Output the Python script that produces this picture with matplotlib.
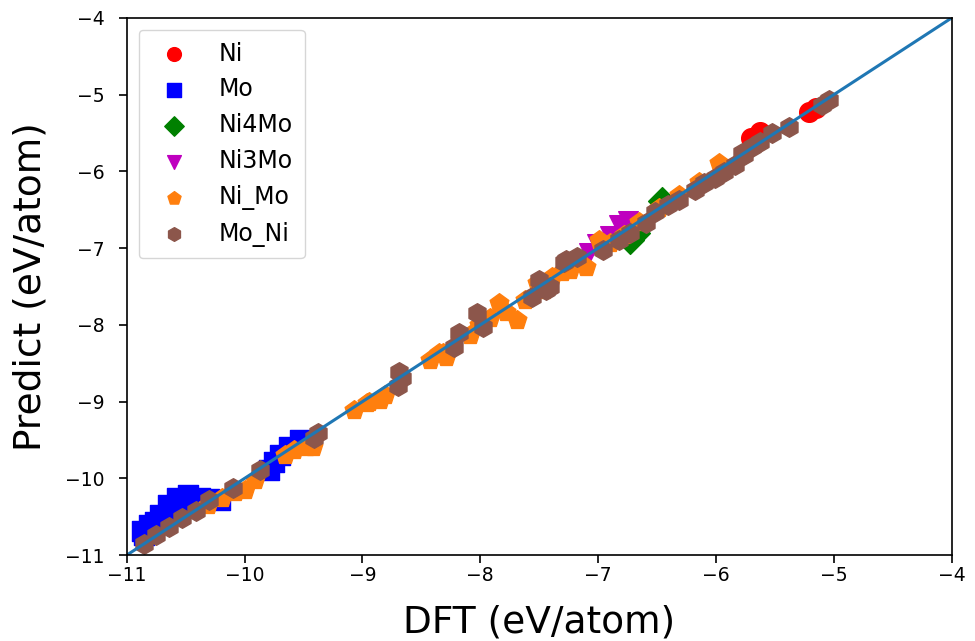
import numpy as np
import matplotlib
matplotlib.use('Agg')
import matplotlib.pyplot as plt

# DFT energy vs predicted energy (eV/atom) for each structure group
ni_dft = [-5.70, -5.63, -5.21, -5.15]
ni_pred = [-5.57, -5.49, -5.23, -5.17]

mo_dft = [-10.87, -10.85, -10.81, -10.76, -10.72, -10.65, -10.63, -10.57, -10.53,
          -10.48, -10.38, -10.30, -10.21, -9.79, -9.75, -9.70, -9.62, -9.53]
mo_pred = [-10.68, -10.74, -10.61, -10.57, -10.48, -10.35, -10.42, -10.25, -10.35,
           -10.22, -10.25, -10.27, -10.28, -9.89, -9.79, -9.70, -9.59, -9.50]

ni4mo_dft = [-6.73, -6.68, -6.46]
ni4mo_pred = [-6.89, -6.80, -6.38]

ni3mo_dft = [-7.08, -7.01, -6.90, -6.82, -6.75]
ni3mo_pred = [-7.06, -6.95, -6.84, -6.70, -6.64]

nimo_dft = [-10.31, -10.19, -10.08, -10.00, -9.91, -9.66, -9.58, -9.47, -9.42, -9.07,
            -8.96, -8.94, -8.85, -8.81, -8.43, -8.35, -8.32, -8.29, -8.09, -8.01,
            -7.92, -7.84, -7.78, -7.69, -7.62, -7.52, -7.46, -7.39, -7.31, -7.24,
            -7.16, -7.10, -6.99, -6.90, -6.78, -6.65, -6.48, -6.31, -6.14, -5.97]
nimo_pred = [-10.35, -10.26, -10.18, -10.15, -10.02, -9.70, -9.63, -9.59, -9.59, -9.11,
             -9.02, -9.01, -8.98, -8.92, -8.46, -8.36, -8.36, -8.42, -8.13, -8.00,
             -7.91, -7.72, -7.83, -7.94, -7.68, -7.46, -7.55, -7.38, -7.31, -7.29,
             -7.19, -7.25, -6.89, -6.93, -6.83, -6.66, -6.48, -6.31, -6.14, -5.89]

moni_dft = [-10.85, -10.75, -10.64, -10.53, -10.41, -10.30, -10.10, -9.87, -9.38, -9.41,
            -8.70, -8.69, -8.66, -8.22, -8.18, -8.03, -7.98, -7.56, -7.50, -7.44,
            -7.41, -7.29, -7.27, -7.18, -6.96, -6.82, -6.73, -6.59, -6.52, -6.41,
            -6.31, -6.18, -6.10, -6.01, -5.93, -5.84, -5.76, -5.78, -5.69, -5.63,
            -5.52, -5.38, -5.10, -5.04]
moni_pred = [-10.85, -10.74, -10.64, -10.51, -10.42, -10.28, -10.13, -9.89, -9.41, -9.48,
             -8.79, -8.62, -8.69, -8.29, -8.11, -7.85, -8.03, -7.64, -7.42, -7.55,
             -7.51, -7.18, -7.16, -7.12, -7.03, -6.89, -6.80, -6.67, -6.53, -6.44,
             -6.37, -6.24, -6.15, -6.09, -6.01, -5.92, -5.79, -5.76, -5.68, -5.62,
             -5.50, -5.42, -5.13, -5.07]

lims = [-11, -4]

fig = plt.figure(figsize=(9.75, 6.41), dpi=100)
ax = fig.add_axes([0.130, 0.134, 0.846, 0.838])

s = 200
ax.scatter(ni_dft, ni_pred, s=s, c='r', marker='o', label='Ni')
ax.scatter(mo_dft, mo_pred, s=s, c='b', marker='s', label='Mo')
ax.scatter(ni4mo_dft, ni4mo_pred, s=s, c='g', marker='D', label='Ni4Mo')
ax.scatter(ni3mo_dft, ni3mo_pred, s=s, c='m', marker='v', label='Ni3Mo')
ax.scatter(nimo_dft, nimo_pred, s=s, c='C1', marker='p', label='Ni_Mo')
ax.scatter(moni_dft, moni_pred, s=s, c='C5', marker='h', label='Mo_Ni')
ax.plot(lims, lims, color='C0', linewidth=2.2)

ax.set_xlim(lims)
ax.set_ylim(lims)
ax.tick_params(labelsize=13.5, width=1.2, length=6)
ax.tick_params(axis='y', pad=10)
ax.tick_params(axis='x', pad=2)
for sp in ax.spines.values():
    sp.set_linewidth(1.2)
ax.set_xlabel('DFT (eV/atom)', fontsize=27, labelpad=14)
ax.set_ylabel('Predict (eV/atom)', fontsize=27, labelpad=12)
ax.legend(loc='upper left', fontsize=17, markerscale=0.7, borderpad=0.5,
          labelspacing=0.5, handletextpad=0.9)

fig.savefig('out.png', dpi=100)
